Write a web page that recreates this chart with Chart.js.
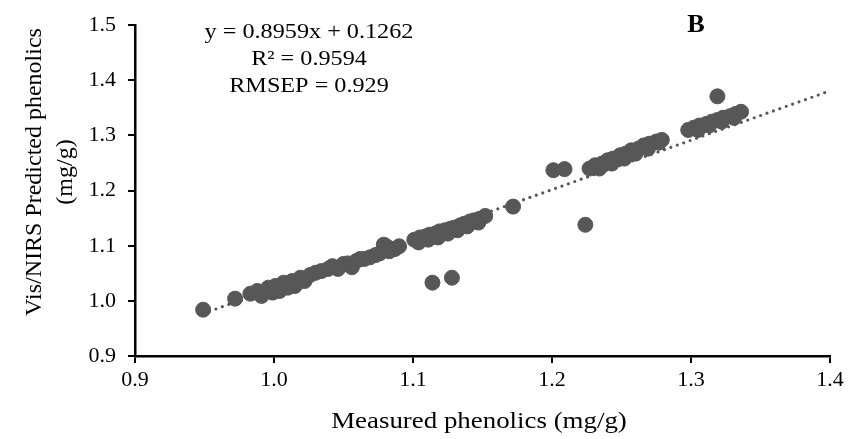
<!DOCTYPE html>
<html><head><meta charset="utf-8">
<script src="https://cdn.jsdelivr.net/npm/chart.js@4/dist/chart.umd.min.js"></script>
<style>html,body{margin:0;padding:0;background:#fff}#wrap{width:854px;height:439px}
.pre{font-family:"Liberation Serif";position:absolute;left:-1000px;top:0}</style>
</head><body><span class="pre">0.9 a</span><span class="pre" style="font-weight:bold">B</span><div id="wrap"><canvas id="c" width="854" height="439"></canvas></div>
<script>
// Measured (x) and predicted (y) phenolics, mg/g
const measured = [
0.949,0.972,
0.983,0.988,0.991,0.996,0.999,1.001,1.004,1.007,1.010,1.013,1.015,1.019,1.022,1.026,1.030,
1.034,1.039,1.042,1.046,1.050,1.053,1.056,1.059,1.062,1.065,1.069,1.073,1.076,1.079,1.082,1.083,1.087,1.090,
1.101,1.104,1.105,1.109,1.111,1.112,1.116,1.118,1.119,1.123,1.125,1.127,1.130,1.132,1.134,1.137,1.139,1.141,1.144,1.147,1.148,1.152,
1.114,1.128,1.172,
1.201,1.209,1.224,1.227,1.231,1.234,1.236,1.240,1.243,1.244,1.249,1.252,1.253,1.257,1.260,1.262,1.266,1.269,1.270,1.275,1.277,1.279,
1.298,1.302,1.305,1.306,1.311,1.313,1.315,1.319,1.322,1.323,1.328,1.331,1.332,1.336,1.319
];
const predicted = [
0.984,1.004,
1.013,1.018,1.009,1.024,1.015,1.027,1.018,1.033,1.024,1.036,1.027,1.042,1.036,1.047,1.051,
1.054,1.058,1.063,1.058,1.067,1.068,1.061,1.072,1.076,1.076,1.079,1.083,1.086,1.102,1.097,1.090,1.094,1.099,
1.111,1.106,1.115,1.117,1.111,1.120,1.122,1.115,1.126,1.128,1.122,1.131,1.133,1.128,1.137,1.140,1.135,1.144,1.146,1.142,1.149,1.154,
1.033,1.042,1.171,
1.237,1.239,1.138,1.240,1.246,1.240,1.249,1.255,1.249,1.258,1.264,1.258,1.267,1.273,1.267,1.276,1.282,1.276,1.285,1.289,1.287,1.292,
1.310,1.314,1.310,1.318,1.321,1.318,1.325,1.328,1.325,1.332,1.335,1.332,1.339,1.343,1.371
];
// Linear trendline end points (y = 0.8959x + 0.1262)
const trendX = [0.949, 1.4];
const trendY = [0.977, 1.381];
const xTicks = [0.9, 1.0, 1.1, 1.2, 1.3, 1.4];
const yTicks = [0.9, 1.0, 1.1, 1.2, 1.3, 1.4, 1.5];
const eqLines = ['y = 0.8959x + 0.1262', 'R\u00B2 = 0.9594', 'RMSEP = 0.929'];
const panelLabel = 'B';
const xTitle = 'Measured phenolics (mg/g)';
const yTitleLines = ['Vis/NIRS Predicted phenolics', '(mg/g)'];

const FONT = "'Liberation Serif', serif";
const DOT = '#575757';

const scatterData = measured.map((x, i) => ({x: x, y: predicted[i]}));
const trendData = trendX.map((x, i) => ({x: x, y: trendY[i]}));

const textPlugin = {
  id: 'texts',
  afterDraw(chart) {
    const ctx = chart.ctx;
    ctx.save();
    ctx.fillStyle = '#000';
    function stretched(text, cx, by, font, sx) {
      ctx.save();
      ctx.font = font; ctx.textAlign = 'center'; ctx.textBaseline = 'alphabetic';
      ctx.translate(cx, by); ctx.scale(sx, 1); ctx.fillText(text, 0, 0);
      ctx.restore();
    }
    const eqBase = [38, 65, 92];
    eqLines.forEach((t, i) => stretched(t, 309, eqBase[i], '22px ' + FONT, 1.1));
    stretched(panelLabel, 696, 32, 'bold 25px ' + FONT, 1.05);
    stretched(xTitle, 479, 428, '24px ' + FONT, 1.12);
    const yBase = [41, 72];
    yTitleLines.forEach((t, i) => {
      ctx.save();
      ctx.font = '24px ' + FONT; ctx.textAlign = 'center'; ctx.textBaseline = 'alphabetic';
      ctx.translate(yBase[i], 172); ctx.rotate(-Math.PI / 2);
      ctx.fillText(t, 0, 0);
      ctx.restore();
    });
    ctx.restore();
  }
};

function draw() {
  new Chart(document.getElementById('c'), {
    data: {
      datasets: [
        {
          type: 'scatter', data: scatterData, order: 1,
          backgroundColor: DOT, borderColor: DOT, borderWidth: 1,
          pointRadius: 7.5, pointHoverRadius: 7.5
        },
        {
          type: 'line', data: trendData, order: 0,
          borderColor: DOT, borderWidth: 3.2, borderDash: [0, 6.8], borderCapStyle: 'round',
          pointRadius: 0, fill: false, tension: 0
        }
      ]
    },
    options: {
      responsive: false, animation: false, devicePixelRatio: 1,
      layout: {padding: {left: 0, right: 24, top: 21, bottom: 0}},
      plugins: {legend: {display: false}, tooltip: {enabled: false}},
      scales: {
        x: {
          type: 'linear', min: 0.9, max: 1.4,
          afterBuildTicks: s => { s.ticks = xTicks.map(v => ({value: v})); },
          afterFit: s => { s.height = 83; },
          ticks: {callback: v => Number(v).toFixed(1), font: {family: FONT, size: 22}, color: '#000', padding: 4, maxRotation: 0, autoSkip: false},
          grid: {drawOnChartArea: false, drawTicks: true, tickLength: 7, color: '#000', lineWidth: 2},
          border: {display: true, color: '#000', width: 2.5}
        },
        y: {
          type: 'linear', min: 0.9, max: 1.5,
          afterBuildTicks: s => { s.ticks = yTicks.map(v => ({value: v})); },
          afterFit: s => { s.width = 135; },
          ticks: {callback: v => Number(v).toFixed(1), font: {family: FONT, size: 22}, color: '#000', padding: 12, autoSkip: false},
          grid: {drawOnChartArea: false, drawTicks: true, tickLength: 7, color: '#000', lineWidth: 2},
          border: {display: true, color: '#000', width: 2.5}
        }
      }
    },
    plugins: [textPlugin]
  });
}
Promise.all([
  document.fonts.load("22px 'Liberation Serif'"),
  document.fonts.load("bold 25px 'Liberation Serif'")
]).then(draw, draw);
</script>
</body></html>
